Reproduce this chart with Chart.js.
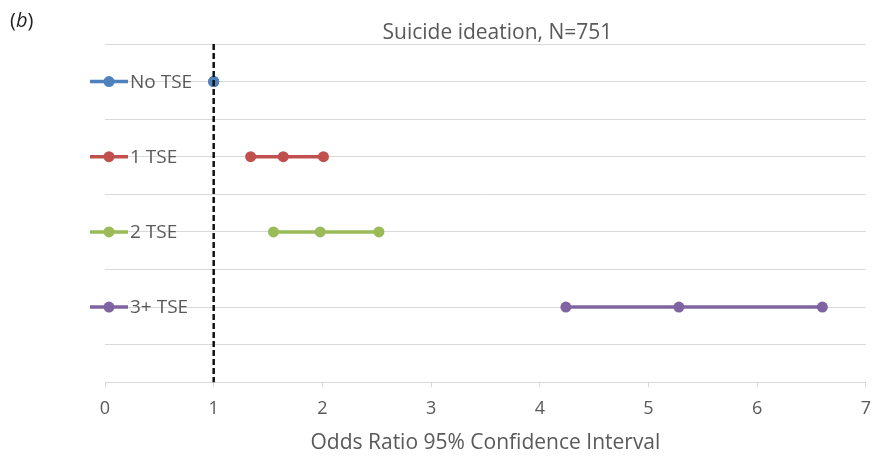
<!DOCTYPE html>
<html>
<head>
<meta charset="utf-8">
<script src="https://cdn.jsdelivr.net/npm/chart.js@4"></script>
<style>
  body { margin: 0; background: #fff; }
  #wrap { position: relative; width: 882px; height: 456px; }
  #tag { position: absolute; left: 10px; top: 6px; font: 20px "Open Sans", sans-serif; color: #222; }
</style>
</head>
<body>
<div id="wrap">
  <div id="tag">(<i>b</i>)</div>
  <canvas id="orChart" width="882" height="456"></canvas>
</div>
<script>
const groups = ["No TSE", "1 TSE", "2 TSE", "3+ TSE"];
const lowerCI = [1, 1.34, 1.55, 4.24];
const oddsRatio = [1, 1.64, 1.98, 5.28];
const upperCI = [1, 2.01, 2.52, 6.60];
const rowPos = [8, 6, 4, 2]; // rows on a 0..9 grid
const colors = ["#4F81BD", "#C0504D", "#9BBB59", "#8064A2"];
const xTicks = [0, 1, 2, 3, 4, 5, 6, 7];
const refLine = 1;
const chartTitle = "Suicide ideation, N=751";

const textColor = "#595959";
const fontFamily = "'Open Sans', sans-serif";

const datasets = groups.map((g, i) => ({
  label: g,
  data: [
    { x: lowerCI[i], y: rowPos[i] },
    { x: oddsRatio[i], y: rowPos[i] },
    { x: upperCI[i], y: rowPos[i] },
  ],
  showLine: true,
  borderColor: colors[i],
  backgroundColor: colors[i],
  borderWidth: 3.5,
  pointRadius: 5.5,
  pointBorderWidth: 0,
  pointHoverRadius: 5.5,
}));

// dashed reference line at OR = 1
const refLinePlugin = {
  id: "refLine",
  afterDatasetsDraw(chart) {
    const { ctx, chartArea, scales } = chart;
    const x = scales.x.getPixelForValue(refLine);
    ctx.save();
    ctx.strokeStyle = "#111";
    ctx.lineWidth = 2.5;
    ctx.setLineDash([6, 3]);
    ctx.beginPath();
    ctx.moveTo(x, chartArea.top);
    ctx.lineTo(x, chartArea.bottom);
    ctx.stroke();
    ctx.restore();
  },
};

// legend drawn next to each row + the title, like the Excel original
const rowLegend = {
  id: "rowLegend",
  afterDraw(chart) {
    const { ctx, chartArea, scales } = chart;
    const left = chartArea.left;
    chart.data.datasets.forEach((ds, i) => {
      const y = scales.y.getPixelForValue(rowPos[i]);
      ctx.save();
      ctx.strokeStyle = ds.borderColor;
      ctx.fillStyle = ds.borderColor;
      ctx.lineWidth = 3.5;
      ctx.beginPath();
      ctx.moveTo(left - 15, y);
      ctx.lineTo(left + 23, y);
      ctx.stroke();
      ctx.beginPath();
      ctx.arc(left + 4, y, 5.5, 0, Math.PI * 2);
      ctx.fill();
      ctx.fillStyle = textColor;
      ctx.font = "19px " + fontFamily;
      ctx.textBaseline = "middle";
      ctx.fillText(ds.label, left + 25, y + 1);
      ctx.restore();
    });
    ctx.save();
    ctx.fillStyle = textColor;
    ctx.font = "21px " + fontFamily;
    ctx.textAlign = "center";
    ctx.textBaseline = "middle";
    ctx.fillText(chartTitle, (chartArea.left + chartArea.right) / 2 + 12, chartArea.top - 11);
    ctx.restore();
  },
};

new Chart(document.getElementById("orChart"), {
  type: "scatter",
  data: { datasets: datasets },
  options: {
    responsive: false,
    animation: false,
    layout: { padding: { left: 105, right: 15, top: 44, bottom: 0 } },
    scales: {
      x: {
        type: "linear",
        min: 0,
        max: 7,
        afterBuildTicks: (axis) => {
          axis.ticks = xTicks.map((v) => ({ value: v }));
        },
        ticks: {
          color: textColor,
          font: { size: 18, family: fontFamily },
          padding: 11,
        },
        grid: {
          drawOnChartArea: false,
          drawTicks: true,
          tickLength: 5,
          color: "#D9D9D9",
        },
        border: { color: "#D9D9D9" },
        title: {
          display: true,
          text: "Odds Ratio 95% Confidence Interval",
          color: textColor,
          font: { size: 21, family: fontFamily },
          padding: { top: 0, bottom: 0 },
        },
      },
      y: {
        type: "linear",
        min: 0,
        max: 9,
        ticks: { display: false, stepSize: 1 },
        grid: { color: "#D9D9D9", drawTicks: false },
        border: { display: false },
      },
    },
    plugins: {
      title: { display: false },
      legend: { display: false },
      tooltip: { enabled: false },
    },
  },
  plugins: [refLinePlugin, rowLegend],
});
</script>
</body>
</html>
